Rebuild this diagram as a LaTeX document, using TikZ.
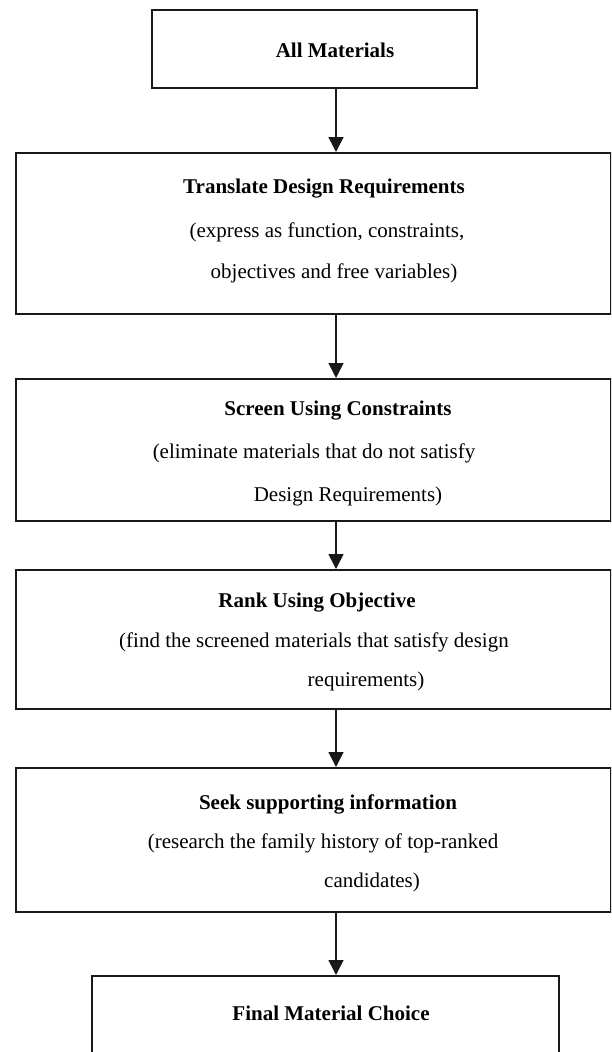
\documentclass[tikz,border=0pt]{standalone}
\usepackage{fontspec}
\setmainfont{Liberation Serif}
\usetikzlibrary{arrows.meta}
\begin{document}
\begin{tikzpicture}[x=1pt,y=-1pt,
  stepbox/.style={draw=black!90, line width=1.6pt},
  head/.style={font=\fontsize{21}{24}\selectfont\bfseries, inner sep=0pt},
  body/.style={font=\fontsize{21}{24}\selectfont, inner sep=0pt},
  arr/.style={draw=black!90, line width=1.6pt, -{Triangle[width=15pt,length=15pt]}}]
\useasboundingbox (0,0) rectangle (611,1052);
\clip (0,0) rectangle (611,1052);
\fill[white] (0,0) rectangle (611,1052);

% column on which all connectors run
\coordinate (ax) at (336,0);

% boxes
\node[stepbox, anchor=north west, minimum width=325pt, minimum height=78pt] (b1) at (151,9) {};
\node[stepbox, anchor=north west, minimum width=595pt, minimum height=161pt] (b2) at (15,152) {};
\node[stepbox, anchor=north west, minimum width=595pt, minimum height=142pt] (b3) at (15,378) {};
\node[stepbox, anchor=north west, minimum width=595pt, minimum height=139pt] (b4) at (15,569) {};
\node[stepbox, anchor=north west, minimum width=595pt, minimum height=144pt] (b5) at (15,767) {};
\node[stepbox, anchor=north west, minimum width=467pt, minimum height=120pt] (b6) at (91,975) {};

% texts
\node[head] (t1) at (335,50) {All Materials};

\node[head] (t2a) at (324,189) {Translate Design Requirements};
\node[body] (t2b) at (327,232) {(express as function, constraints,};
\node[body] (t2c) at (334,273) {objectives and free variables)};

\node[head] (t3a) at (338,411) {Screen Using Constraints};
\node[body] (t3b) at (314,453) {(eliminate materials that do not satisfy};
\node[body] (t3c) at (348,496) {Design Requirements)};

\node[head] (t4a) at (317,603) {Rank Using Objective};
\node[body] (t4b) at (314,642) {(find the screened materials that satisfy design};
\node[body] (t4c) at (366,681) {requirements)};

\node[head] (t5a) at (328,804) {Seek supporting information};
\node[body] (t5b) at (323,843) {(research the family history of top-ranked};
\node[body] (t5c) at (372,882) {candidates)};

\node[head] (t6a) at (331,1013) {Final Material Choice};

% connectors
\draw[arr] (b1.south -| ax) -- (b2.north -| ax);
\draw[arr] (b2.south -| ax) -- (b3.north -| ax);
\draw[arr] (b3.south -| ax) -- (b4.north -| ax);
\draw[arr] (b4.south -| ax) -- (b5.north -| ax);
\draw[arr] (b5.south -| ax) -- (b6.north -| ax);
\end{tikzpicture}
\end{document}
